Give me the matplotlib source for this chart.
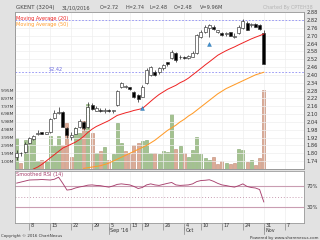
import matplotlib
matplotlib.use("Agg")
import matplotlib.pyplot as plt
import matplotlib.transforms as mtransforms

# ---------------- data ----------------
opens = [1.77, 1.80, 1.81, 1.88, 1.91, 1.95, 1.96, 1.95, 1.96, 2.07,
         2.105, 2.115, 1.99, 1.925, 1.95, 2.00, 2.04, 2.00, 2.17, 2.125,
         2.135, 2.12, 2.135, 2.12, 2.17, 2.31, 2.31, 2.305, 2.27, 2.246,
         2.233, 2.336, 2.40, 2.425, 2.42, 2.45, 2.495, 2.53, 2.565, 2.535,
         2.54, 2.528, 2.54, 2.565, 2.69, 2.73, 2.757, 2.77, 2.73, 2.72,
         2.71, 2.725, 2.69, 2.72, 2.76, 2.80, 2.78, 2.79, 2.78, 2.72]
highs = [1.825, 1.81, 1.885, 1.925, 1.94, 1.98, 1.965, 1.965, 2.07, 2.13,
         2.155, 2.12, 2.00, 1.965, 2.00, 2.06, 2.05, 2.195, 2.185, 2.16,
         2.15, 2.15, 2.14, 2.135, 2.285, 2.345, 2.32, 2.31, 2.275, 2.25,
         2.32, 2.45, 2.47, 2.435, 2.46, 2.48, 2.50, 2.59, 2.575, 2.55,
         2.545, 2.555, 2.58, 2.71, 2.74, 2.78, 2.79, 2.78, 2.745, 2.73,
         2.725, 2.73, 2.72, 2.78, 2.825, 2.81, 2.80, 2.795, 2.79, 2.74]
lows = [1.75, 1.78, 1.80, 1.87, 1.90, 1.94, 1.945, 1.945, 1.955, 2.06,
        2.10, 2.00, 1.915, 1.90, 1.945, 1.99, 1.98, 1.995, 2.13, 2.12,
        2.115, 2.11, 2.115, 2.11, 2.165, 2.30, 2.30, 2.285, 2.22, 2.195,
        2.23, 2.33, 2.39, 2.395, 2.41, 2.44, 2.47, 2.52, 2.50, 2.52,
        2.52, 2.52, 2.535, 2.56, 2.68, 2.72, 2.69, 2.745, 2.72, 2.70,
        2.70, 2.70, 2.685, 2.715, 2.75, 2.74, 2.77, 2.765, 2.745, 2.48]
closes = [1.805, 1.80, 1.875, 1.915, 1.93, 1.955, 1.95, 1.96, 2.065, 2.105,
          2.115, 2.005, 1.94, 1.938, 1.99, 2.05, 1.995, 2.155, 2.14, 2.145,
          2.12, 2.135, 2.12, 2.13, 2.275, 2.335, 2.31, 2.29, 2.233, 2.213,
          2.31, 2.44, 2.463, 2.40, 2.45, 2.475, 2.48, 2.577, 2.51, 2.54,
          2.527, 2.548, 2.57, 2.705, 2.73, 2.77, 2.78, 2.75, 2.74, 2.705,
          2.72, 2.70, 2.70, 2.77, 2.815, 2.745, 2.79, 2.77, 2.75, 2.48]
volumes_m = [3.9, 0.8, 3.7, 3.75, 3.9, 1.0, 1.2, 1.0, 4.2, 2.9,
             4.2, 3.1, 5.85, 1.5, 5.2, 4.6, 6.1, 8.25, 4.6, 2.05,
             2.3, 2.8, 1.2, 1.85, 5.85, 3.3, 2.3, 1.85, 3.1, 3.3,
             3.5, 3.7, 2.0, 2.05, 1.9, 2.27, 2.2, 6.9, 2.56, 2.9,
             2.05, 1.5, 2.4, 4.0, 1.9, 1.42, 1.2, 1.5, 0.58, 1.0,
             0.8, 0.58, 0.8, 2.5, 2.4, 0.87, 1.2, 0.5, 1.42, 9.96]
nan = float("nan")
ma20 = [nan, nan, nan, nan, 1.68, 1.695, 1.715, 1.74, 1.765, 1.79,
        1.815, 1.84, 1.855, 1.87, 1.885, 1.905, 1.93, 1.96, 1.985, 2.005,
        2.02, 2.035, 2.05, 2.07, 2.09, 2.10, 2.11, 2.118, 2.128, 2.135,
        2.143, 2.17, 2.198, 2.225, 2.25, 2.27, 2.29, 2.305, 2.32, 2.34,
        2.355, 2.375, 2.40, 2.425, 2.45, 2.476, 2.50, 2.525, 2.55, 2.568,
        2.585, 2.60, 2.614, 2.63, 2.645, 2.66, 2.675, 2.688, 2.70, 2.713]
ma50 = [nan] * 16 + [
        1.685, 1.69, 1.695, 1.70,
        1.705, 1.715, 1.725, 1.74, 1.755, 1.77, 1.785, 1.80, 1.815, 1.83,
        1.845, 1.86, 1.88, 1.90, 1.925, 1.95, 1.975, 1.995, 2.015, 2.04,
        2.06, 2.085, 2.105, 2.13, 2.155, 2.18, 2.205, 2.23, 2.255, 2.275,
        2.295, 2.31, 2.325, 2.34, 2.355, 2.37, 2.385, 2.40, 2.41, 2.42]
rsi = [76.5, 78.5, 80.5, 82.5, 82.8, 83, 83.5, 83, 82.5, 84,
       88, 76, 63, 64, 67, 69, 70.5, 72.5, 73, 72,
       71.5, 70, 68.7, 71, 74, 75, 74, 73, 70, 66,
       68, 73, 75, 73, 72, 74, 76, 77.7, 73, 72,
       72.5, 73, 75, 79.5, 81.5, 82, 83, 80, 76, 73,
       71.7, 70, 68.7, 71.5, 75, 70, 68, 67, 64, 40]
signal_idx = [30, 46]
signal_price = [2.145, 2.64]

tick_idx = [3, 8, 13, 18, 22, 27, 30, 35, 40, 44, 49, 54, 59, 64]
tick_day = ["8", "15", "22", "29", "5", "13", "19", "26", "4", "10", "17", "24", "31", "7"]
month_idx = [22, 40, 59]
month_lbl = ["Sep '16", "Oct", "Nov"]
price_ticks = [1.74, 1.80, 1.86, 1.92, 1.98, 2.04, 2.10, 2.16, 2.22, 2.28,
               2.34, 2.40, 2.46, 2.52, 2.58, 2.64, 2.70, 2.76, 2.82, 2.88]
vol_ticks_m = [0.996, 1.992, 2.988, 3.984, 4.98, 5.976, 6.972, 7.968, 8.964, 9.96]
vol_tick_lbl = ["1.00M", "1.99M", "2.99M", "3.99M", "4.98M", "5.98M", "6.98M", "7.97M", "8.97M", "9.95M"]
resist_level = 2.82
support_level = 2.42

# ---------------- figure ----------------
W, H = 320, 240
BG = "#e2e2e2"
fig = plt.figure(figsize=(W / 100, H / 100), dpi=100, facecolor=BG)
plt.rcParams["font.family"] = ["DejaVu Sans"]

def box(x0, y0, x1, y1):
    return [x0 / W, 1 - y1 / H, (x1 - x0) / W, (y1 - y0) / H]

axv = fig.add_axes(box(15, 12, 304, 169))
axp = axv.twinx()
rax = fig.add_axes(box(15, 171, 304, 222.5), sharex=axv)

n = len(closes)
xs = list(range(n))
xlim = (-0.41, 68.6)

# volume
vcol = []
vedge = []
for i in range(n):
    up = i == 0 or closes[i] > closes[i - 1]
    vcol.append("#a3c28f" if up else "#dcab96")
    vedge.append("#83a56e" if up else "#c08a73")
axv.bar(xs, [v * 1e6 for v in volumes_m], width=0.72, color=vcol, edgecolor=vedge, linewidth=0.4)
axv.set_ylim(0, 19.87e6)
axv.set_yticks([v * 1e6 for v in vol_ticks_m])
axv.set_yticklabels(vol_tick_lbl)
axv.tick_params(axis="y", length=0, pad=0.6, labelsize=3.15, colors="#333333")
axv.set_facecolor("white")

# price grid
axp.set_ylim(1.68, 2.881)
axp.set_yticks(price_ticks)
axp.set_yticklabels(["%.2f" % p for p in price_ticks])
axp.tick_params(axis="y", length=0, pad=2, labelsize=3.7, colors="#333333")
for p in price_ticks:
    axp.axhline(p, color="#eeeeee", lw=0.5, zorder=0)
for t in tick_idx:
    axp.axvline(t, color="#eeeeee", lw=0.5, zorder=0)
    rax.axvline(t, color="#eeeeee", lw=0.5, zorder=0)

# candles
for i in range(n):
    o, h, l, c = opens[i], highs[i], lows[i], closes[i]
    axp.vlines(i, l, h, color="#222222", lw=0.5, zorder=3)
    body = max(abs(c - o), 0.004)
    face = "white" if c >= o else "black"
    axp.bar(i, body, bottom=min(o, c), width=0.72, color=face, edgecolor="#333333",
            linewidth=0.45, zorder=4)

# moving averages
axp.plot(xs, ma20, color="#ee2222", lw=0.7, zorder=5)
axp.plot(xs, ma50, color="#ff9c2a", lw=0.75, zorder=5)

# levels
axp.axhline(resist_level, color="#8c8cf5", lw=0.6, ls=(0, (2, 2)), zorder=2)
axp.axhline(support_level, color="#8c8cf5", lw=0.6, ls=(0, (2, 2)), zorder=2)
axp.text(7.5, support_level + 0.012, "$%.2f" % support_level, color="#6a6ae0", fontsize=3.6, zorder=6)

# signals
axp.plot(signal_idx, signal_price, ls="none", marker="^", ms=2.8, color="#3f92d2",
         markeredgecolor="#2a6fa8", markeredgewidth=0.3, zorder=6)

# legend texts
axp.text(0.004, 0.975, "Moving Average (20)", transform=axp.transAxes, color="#ee2222",
         fontsize=3.6, va="top", ha="left", zorder=7)
axp.text(0.004, 0.935, "Moving Average (50)", transform=axp.transAxes, color="#ff9c2a",
         fontsize=3.6, va="top", ha="left", zorder=7)

for a in (axv, axp, rax):
    for s in a.spines.values():
        s.set_color("#9a9a9a")
        s.set_linewidth(0.6)
axv.set_xlim(*xlim)
axv.tick_params(axis="x", length=0, labelbottom=False)

# RSI panel
rax.set_facecolor("white")
rax.plot(xs, rsi, color="#a8406e", lw=0.65, zorder=4)
rax.axhline(70, color="#c99db2", lw=0.8, zorder=2)
rax.axhline(30, color="#c99db2", lw=0.8, zorder=2)
rax.axhline(50, color="#c99db2", lw=0.7, ls=(0, (1, 2)), zorder=2)
rax.set_ylim(0, 100)
rax.yaxis.tick_right()
rax.set_yticks([30, 70])
rax.set_yticklabels(["30%", "70%"])
rax.tick_params(axis="y", length=0, pad=2, labelsize=3.7, colors="#333333")
rax.text(0.004, 0.98, "Smoothed RSI (14)", transform=rax.transAxes, color="#a8406e",
         fontsize=3.6, va="top", ha="left")
rax.set_xticks(tick_idx)
rax.set_xticklabels([])
rax.tick_params(axis="x", length=5, width=0.5, color="#888888", direction="out")
rax.set_xlim(*xlim)
tr = mtransforms.blended_transform_factory(rax.transData, rax.transAxes)
for t, d in zip(tick_idx, tick_day):
    rax.text(t + 0.35, -0.015, d, transform=tr, fontsize=3.5, color="#333333", ha="left", va="top")
for t, m in zip(month_idx, month_lbl):
    rax.plot([t, t], [-0.09, -0.22], transform=tr, color="#888888", lw=0.5, clip_on=False)
    rax.text(t + 0.35, -0.115, m, transform=tr, fontsize=3.5, color="#333333", ha="left", va="top")

# header / footer
hy = 1 - 7.5 / H
fig.text(16 / W, hy, "GKENT (3204)", fontsize=4, color="#444444", va="center")
fig.text(62 / W, hy, "31/10/2016", fontsize=3.6, color="#444444", va="center")
fig.text(100 / W, hy, "O=%.2f" % opens[-1], fontsize=3.6, color="#444444", va="center")
fig.text(126 / W, hy, "H=%.2f" % highs[-1], fontsize=3.6, color="#444444", va="center")
fig.text(150 / W, hy, "L=%.2f" % lows[-1], fontsize=3.6, color="#444444", va="center")
fig.text(174 / W, hy, "C=%.2f" % closes[-1], fontsize=3.6, color="#444444", va="center")
fig.text(200 / W, hy, "V=%.2fM" % volumes_m[-1], fontsize=3.6, color="#444444", va="center")
fig.text(313 / W, hy, "Charted By CPTEH38", fontsize=3.4, color="#b5b5b5", va="center", ha="right")
fig.text(1 / W, 1 - 235.5 / H, "Copyright \u00a9 2016 ChartNexus", fontsize=2.9, color="#333333", va="center")
fig.text(318 / W, 1 - 237.5 / H, "Powered by www.sharenexus.com", fontsize=2.9, color="#333333",
         va="center", ha="right")

fig.savefig("out.png", dpi=100, facecolor=BG)
